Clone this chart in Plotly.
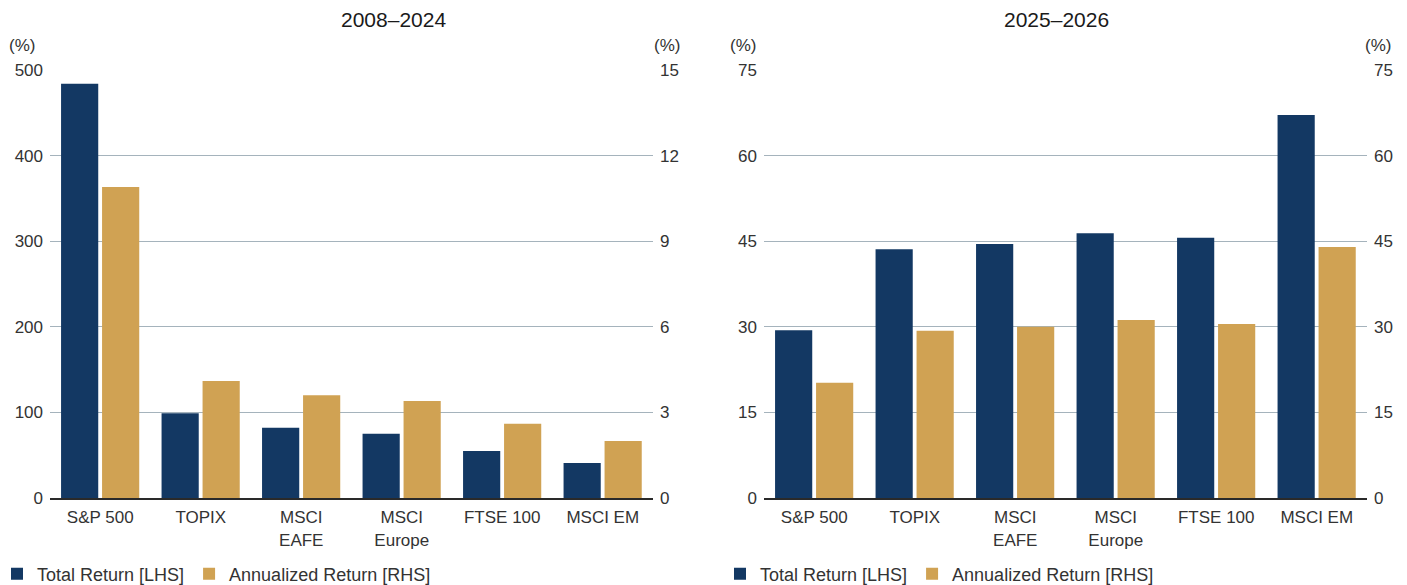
import plotly.graph_objects as go

categories = ["S&P 500", "TOPIX", "MSCI EAFE", "MSCI Europe", "FTSE 100", "MSCI EM"]
tick_labels = ["S&P 500", "TOPIX", "MSCI<br>EAFE", "MSCI<br>Europe", "FTSE 100", "MSCI EM"]

total_2008_2024 = [484, 99, 82, 75, 55, 41]
annual_2008_2024 = [10.9, 4.1, 3.6, 3.4, 2.6, 2.0]

total_2025_2026 = [29.4, 43.6, 44.5, 46.4, 45.6, 67.1]
annual_2025_2026 = [20.2, 29.3, 30.0, 31.2, 30.5, 44.0]

titles = ["2008\u20132024", "2025\u20132026"]
series_names = ["Total Return [LHS]", "Annualized Return [RHS]"]

NAVY = "#133863"
GOLD = "#d0a253"
GRID = "#a5b3bc"
TXT = "#333333"
FONT = "Liberation Sans, Arial, sans-serif"

W, H = 1407, 585
def px(x):
    return x / W
def py(y):
    return 1 - y / H

fig = go.Figure()

panels = [
    dict(total=total_2008_2024, annual=annual_2008_2024, xa="x", ya="y", ya2="y2",
         legend="legend", lrange=[0, 500], ldt=100, rrange=[0, 15], rdt=3,
         dom=[px(50), px(653)]),
    dict(total=total_2025_2026, annual=annual_2025_2026, xa="x2", ya="y3", ya2="y4",
         legend="legend2", lrange=[0, 75], ldt=15, rrange=[0, 75], rdt=15,
         dom=[px(764), px(1367)]),
]

bar_w = 0.37
for p in panels:
    fig.add_trace(go.Bar(x=categories, y=p["total"], name=series_names[0],
                         marker=dict(color=NAVY, line=dict(width=0)),
                         width=bar_w, offset=-0.39, xaxis=p["xa"], yaxis=p["ya"],
                         legend=p["legend"], hoverinfo="x+y"))
    fig.add_trace(go.Bar(x=categories, y=p["annual"], name=series_names[1],
                         marker=dict(color=GOLD, line=dict(width=0)),
                         width=bar_w, offset=0.018, xaxis=p["xa"], yaxis=p["ya2"],
                         legend=p["legend"], hoverinfo="x+y"))

ydom = [py(498), py(70)]
tickfont = dict(family=FONT, size=17, color=TXT)

for i, p in enumerate(panels):
    xkey = "xaxis" if i == 0 else "xaxis2"
    ykey = "yaxis" if i == 0 else "yaxis3"
    y2key = "yaxis2" if i == 0 else "yaxis4"
    yname = p["ya"]
    fig.layout[xkey] = dict(domain=p["dom"], anchor=yname, type="category",
                            range=[-0.5, 5.5], tickmode="array", tickvals=categories,
                            ticktext=tick_labels, tickfont=tickfont, showgrid=False,
                            showline=True, linecolor="#2a2a2a", linewidth=2,
                            ticks="", ticklabelstandoff=3, zeroline=False, fixedrange=True,
                            automargin=False)
    fig.layout[ykey] = dict(domain=ydom, anchor=p["xa"], range=p["lrange"], dtick=p["ldt"],
                            tick0=0, showgrid=True, gridcolor=GRID, gridwidth=1,
                            zeroline=False, showline=False, ticks="", tickfont=tickfont,
                            ticklabelstandoff=6, fixedrange=True, automargin=False)
    fig.layout[y2key] = dict(domain=ydom, anchor=p["xa"], overlaying=yname, side="right",
                             range=p["rrange"], dtick=p["rdt"], tick0=0, showgrid=False,
                             zeroline=False, showline=False, ticks="", tickfont=tickfont,
                             ticklabelstandoff=6, fixedrange=True, automargin=False)

titlefont = dict(family=FONT, size=21, color="#1a1a1a")
annotations = [
    dict(text=titles[0], x=px(393), y=py(20), xanchor="center", yanchor="middle", font=titlefont),
    dict(text=titles[1], x=px(1056), y=py(20), xanchor="center", yanchor="middle", font=titlefont),
    dict(text="(%)", x=px(22), y=py(46), xanchor="center", yanchor="middle", font=tickfont),
    dict(text="(%)", x=px(667), y=py(46), xanchor="center", yanchor="middle", font=tickfont),
    dict(text="(%)", x=px(743), y=py(46), xanchor="center", yanchor="middle", font=tickfont),
    dict(text="(%)", x=px(1378), y=py(46), xanchor="center", yanchor="middle", font=tickfont),
]
for a in annotations:
    a.update(xref="paper", yref="paper", showarrow=False)

legfont = dict(family=FONT, size=18, color=TXT)
fig.update_layout(
    width=W, height=H,
    margin=dict(l=0, r=0, t=0, b=0, pad=0, autoexpand=False),
    paper_bgcolor="white", plot_bgcolor="white",
    barmode="overlay",
    annotations=annotations,
    legend=dict(orientation="h", x=px(-3), y=py(574), xanchor="left", yanchor="middle",
                font=legfont, bgcolor="rgba(0,0,0,0)", itemclick=False,
                itemdoubleclick=False, tracegroupgap=0),
    legend2=dict(orientation="h", x=px(720), y=py(574), xanchor="left", yanchor="middle",
                 font=legfont, bgcolor="rgba(0,0,0,0)", itemclick=False,
                 itemdoubleclick=False, tracegroupgap=0),
    showlegend=True,
)

fig.write_html(
    "out.html",
    config={"displayModeBar": False},
    post_script="document.body.style.margin='0px';document.body.style.padding='0px';"
                "document.documentElement.style.overflow='hidden';",
)
